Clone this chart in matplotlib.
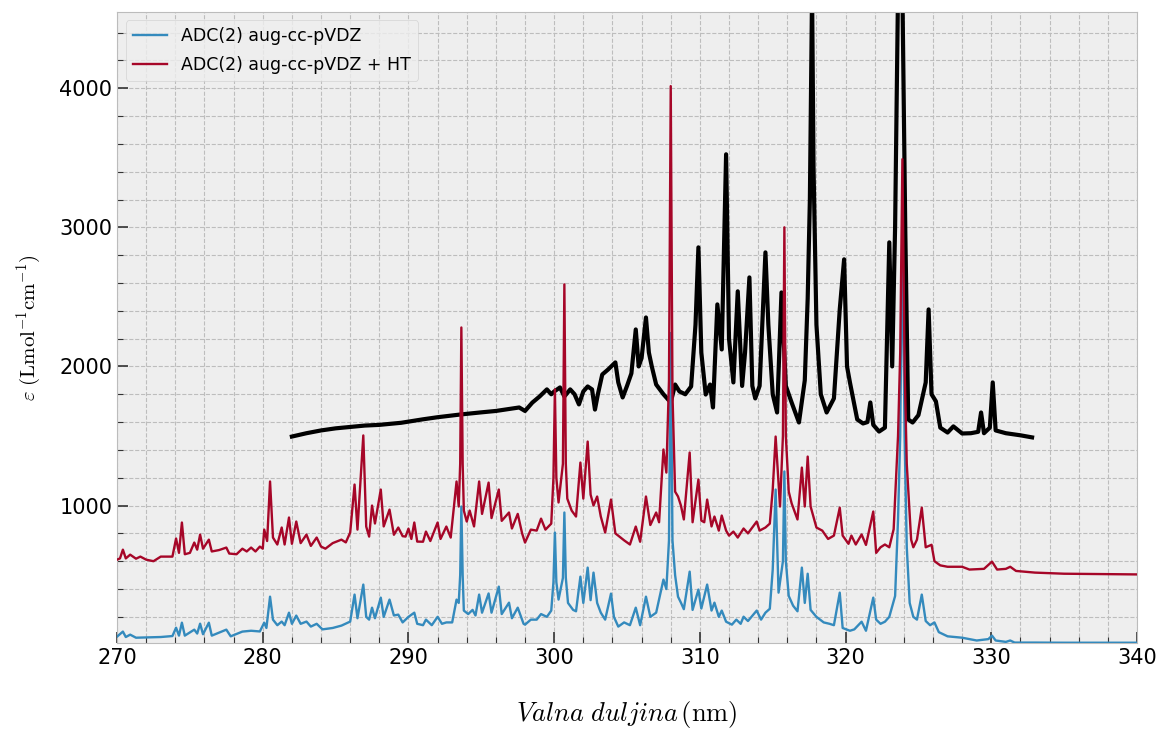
import matplotlib
matplotlib.use("Agg")
import matplotlib.pyplot as plt
from matplotlib.ticker import MultipleLocator

# ADC(2) aug-cc-pVDZ
adc_x = [270.0, 270.4, 270.6, 270.9, 271.3, 272.0, 273.0, 273.8, 274.05, 274.25, 274.45, 274.65,
         275.3, 275.5, 275.7, 275.9, 276.3, 276.5, 277.5, 277.8, 278.6, 279.2, 279.8, 280.1,
         280.25, 280.5, 280.7, 281.0, 281.3, 281.5, 281.8, 282.0, 282.3, 282.6, 283.0, 283.3,
         283.7, 284.1, 284.8, 285.4, 286.0, 286.3, 286.5, 286.9, 287.1, 287.3, 287.5, 287.7,
         288.1, 288.3, 288.7, 289.0, 289.3, 289.6, 290.0, 290.4, 290.6, 291.0, 291.2, 291.6,
         292.0, 292.3, 292.6, 293.0, 293.3, 293.45, 293.55, 293.63, 293.72, 293.8, 294.1, 294.4,
         294.6, 294.85, 295.05, 295.5, 295.7, 296.2, 296.4, 296.9, 297.1, 297.5, 297.9, 298.0,
         298.4, 298.8, 299.1, 299.5, 299.8, 299.95, 300.05, 300.15, 300.3, 300.6, 300.7, 300.8,
         300.95, 301.3, 301.5, 301.8, 302.0, 302.3, 302.5, 302.7, 302.95, 303.2, 303.5, 303.9,
         304.1, 304.4, 304.8, 305.2, 305.6, 305.9, 306.3, 306.6, 307.0, 307.5, 307.7, 307.88,
         308.0, 308.12, 308.3, 308.5, 308.7, 308.9, 309.3, 309.5, 309.9, 310.1, 310.5, 310.8,
         311.0, 311.3, 311.5, 311.8, 312.2, 312.5, 312.8, 313.0, 313.3, 313.9, 314.2, 314.5,
         314.8, 315.0, 315.2, 315.4, 315.7, 315.8, 315.9, 316.1, 316.4, 316.7, 317.0, 317.2,
         317.4, 317.6, 318.0, 318.5, 318.9, 319.2, 319.6, 319.8, 320.3, 320.6, 321.1, 321.4,
         321.9, 322.1, 322.4, 322.7, 323.0, 323.4, 323.6, 323.75, 323.9, 324.05, 324.2, 324.4,
         324.65, 324.9, 325.23, 325.5, 325.8, 326.1, 326.4, 327.0, 328.0, 329.0, 329.8, 330.05,
         330.3, 331.0, 331.3, 331.6, 333.0, 335.0, 340.0]
adc_y = [58, 94, 55, 72, 50, 52, 55, 62, 122, 65, 158, 65,
         108, 80, 151, 75, 158, 65, 108, 60, 94, 100, 95, 158,
         120, 345, 180, 140, 166, 140, 230, 150, 209, 150, 166, 130,
         150, 110, 120, 137, 166, 360, 190, 432, 200, 180, 266, 190,
         338, 200, 324, 210, 216, 160, 200, 230, 150, 140, 180, 140,
         200, 150, 160, 160, 324, 300, 500, 993, 500, 245, 220, 250,
         210, 360, 230, 368, 230, 417, 220, 302, 190, 266, 150, 144,
         180, 180, 220, 200, 245, 450, 806, 450, 324, 480, 950, 480,
         300, 250, 240, 489, 300, 554, 320, 518, 300, 230, 180, 367,
         200, 130, 160, 140, 266, 140, 345, 200, 230, 468, 400, 750,
         2240, 750, 500, 345, 302, 255, 525, 250, 396, 260, 432, 245,
         302, 200, 245, 165, 144, 180, 150, 201, 170, 245, 180, 230,
         258, 540, 1115, 374, 600, 1245, 600, 350, 280, 240, 554, 300,
         510, 250, 200, 160, 150, 140, 374, 120, 100, 110, 165, 100,
         338, 180, 150, 165, 200, 350, 900, 1500, 3040, 1500, 700, 300,
         200, 180, 360, 170, 140, 160, 90, 60, 50, 30, 40, 65,
         30, 20, 30, 15, 15, 14, 14]

# ADC(2) aug-cc-pVDZ + HT
ht_x = [270.0, 270.2, 270.4, 270.6, 270.9, 271.3, 271.6, 272.0, 272.5, 273.0, 273.8, 274.05,
        274.25, 274.45, 274.65, 275.0, 275.3, 275.5, 275.7, 275.9, 276.3, 276.5, 277.0, 277.5,
        277.7, 278.2, 278.6, 278.9, 279.2, 279.5, 279.8, 280.0, 280.1, 280.3, 280.5, 280.7,
        281.0, 281.3, 281.5, 281.8, 282.0, 282.3, 282.6, 283.0, 283.3, 283.7, 284.0, 284.3,
        284.8, 285.4, 285.7, 286.0, 286.3, 286.5, 286.9, 287.1, 287.3, 287.5, 287.7, 288.1,
        288.3, 288.7, 289.0, 289.3, 289.6, 289.8, 290.0, 290.2, 290.4, 290.6, 291.0, 291.2,
        291.5, 292.0, 292.2, 292.6, 292.9, 293.3, 293.45, 293.55, 293.63, 293.72, 293.8, 294.0,
        294.2, 294.5, 294.85, 295.05, 295.5, 295.7, 296.2, 296.4, 296.9, 297.1, 297.5, 297.8,
        298.0, 298.4, 298.8, 299.1, 299.4, 299.6, 299.8, 299.95, 300.05, 300.15, 300.3, 300.6,
        300.7, 300.8, 300.9, 301.2, 301.5, 301.8, 302.0, 302.3, 302.5, 302.7, 302.95, 303.2,
        303.5, 303.9, 304.2, 304.8, 305.2, 305.6, 305.9, 306.3, 306.6, 307.0, 307.2, 307.5,
        307.7, 307.88, 308.0, 308.12, 308.3, 308.5, 308.7, 308.9, 309.3, 309.5, 309.9, 310.1,
        310.3, 310.5, 310.8, 311.0, 311.3, 311.5, 311.8, 312.0, 312.3, 312.6, 313.0, 313.3,
        313.9, 314.1, 314.5, 314.8, 315.0, 315.2, 315.5, 315.7, 315.8, 315.9, 316.1, 316.3,
        316.7, 317.0, 317.2, 317.4, 317.6, 318.0, 318.4, 318.8, 319.2, 319.6, 319.8, 320.2,
        320.4, 320.7, 321.1, 321.4, 321.9, 322.1, 322.4, 322.7, 323.0, 323.3, 323.6, 323.75,
        323.9, 324.05, 324.2, 324.5, 324.65, 324.9, 325.23, 325.5, 325.9, 326.1, 326.5, 327.0,
        328.0, 328.5, 329.5, 330.05, 330.4, 331.0, 331.3, 331.7, 333.0, 335.0, 340.0]
ht_y = [611, 620, 683, 620, 647, 618, 633, 611, 600, 633, 633, 763,
        660, 878, 650, 660, 734, 683, 791, 690, 755, 670, 680, 698,
        655, 650, 690, 670, 698, 670, 705, 690, 827, 745, 1173, 770,
        720, 842, 720, 914, 725, 885, 730, 791, 710, 770, 705, 690,
        730, 755, 735, 806, 1151, 827, 1504, 849, 777, 1000, 871, 1115,
        850, 971, 790, 842, 780, 777, 834, 760, 878, 741, 740, 813,
        745, 878, 760, 849, 770, 1173, 993, 1300, 2280, 1300, 964, 885,
        964, 850, 1173, 940, 1165, 910, 1115, 890, 950, 835, 940, 800,
        734, 827, 820, 906, 827, 849, 870, 1200, 1835, 1200, 1022, 1300,
        2590, 1300, 1050, 964, 921, 1309, 1050, 1460, 1079, 1000, 1065, 921,
        806, 1043, 800, 750, 720, 849, 740, 1065, 860, 950, 880, 1403,
        1237, 1900, 4015, 1800, 1100, 1065, 1000, 900, 1381, 880, 1187, 892,
        880, 1043, 850, 921, 820, 928, 820, 784, 813, 770, 835, 800,
        885, 820, 842, 870, 1115, 1496, 993, 1500, 3000, 1500, 1100, 1015,
        900, 1273, 993, 1352, 993, 842, 820, 760, 784, 985, 784, 725,
        784, 720, 792, 717, 957, 660, 700, 720, 700, 830, 1500, 2100,
        3490, 2000, 1300, 755, 700, 755, 985, 700, 718, 600, 570, 560,
        560, 540, 545, 597, 540, 545, 560, 530, 518, 510, 505]

# experimental spectrum (black trace)
exp_x = [282.0, 283.0, 284.0, 285.0, 286.0, 287.0, 288.0, 289.5, 291.0, 292.0, 293.6, 295.0,
         296.0, 297.6, 298.0, 298.5, 299.0, 299.5, 299.8, 300.0, 300.4, 300.7, 301.1, 301.4,
         301.7, 302.0, 302.3, 302.6, 302.8, 303.0, 303.3, 303.7, 304.2, 304.4, 304.7, 305.0,
         305.3, 305.6, 305.8, 306.0, 306.3, 306.5, 306.7, 307.0, 307.5, 308.0, 308.3, 308.6,
         309.0, 309.4, 309.7, 309.9, 310.1, 310.4, 310.7, 310.9, 311.2, 311.5, 311.8, 312.0,
         312.3, 312.6, 312.9, 313.1, 313.4, 313.6, 313.8, 314.1, 314.5, 314.7, 315.0, 315.3,
         315.6, 315.9, 316.3, 316.8, 317.2, 317.4, 317.55, 317.7, 317.8, 318.0, 318.3, 318.7,
         319.2, 319.6, 319.9, 320.1, 320.3, 320.8, 321.2, 321.5, 321.7, 321.9, 322.3, 322.7,
         323.0, 323.2, 323.4, 323.6, 323.9, 324.1, 324.3, 324.6, 325.0, 325.5, 325.7, 325.9,
         326.2, 326.5, 327.0, 327.4, 328.0, 328.6, 329.1, 329.3, 329.5, 329.9, 330.1, 330.3,
         331.0, 332.0, 332.8]
exp_y = [1496, 1520, 1540, 1555, 1565, 1575, 1580, 1595, 1620, 1635, 1655, 1670,
         1680, 1705, 1680, 1740, 1784, 1835, 1800, 1820, 1849, 1784, 1835, 1800,
         1727, 1820, 1856, 1835, 1690, 1800, 1942, 1978, 2029, 1885, 1777, 1860,
         1950, 2266, 2000, 2060, 2352, 2100, 2000, 1870, 1800, 1741, 1870, 1820,
         1800, 1856, 2300, 2856, 2100, 1798, 1870, 1705, 2446, 2122, 3525, 2200,
         1885, 2540, 1860, 2100, 2640, 1860, 1770, 1860, 2820, 2300, 1800, 1669,
         2532, 1860, 1740, 1597, 1900, 2489, 3201, 4700, 3439, 2300, 1800, 1669,
         1770, 2410, 2770, 2000, 1885, 1619, 1590, 1600, 1741, 1580, 1532, 1560,
         2892, 2000, 3007, 4700, 4700, 2964, 1619, 1597, 1650, 1885, 2410, 1800,
         1749, 1560, 1525, 1569, 1518, 1520, 1530, 1669, 1520, 1560, 1885, 1540,
         1520, 1505, 1490]

plt.style.use('bmh')
plt.rcParams['mathtext.fontset'] = 'cm'

fig = plt.figure(figsize=(11.59, 7.31), dpi=100)
ax = fig.add_axes([0.101, 0.12, 0.88, 0.864])

ax.plot(exp_x, exp_y, color='black', lw=3, zorder=2)
ax.plot(adc_x, adc_y, color='#348ABD', lw=1.7, label='ADC(2) aug-cc-pVDZ', zorder=3)
ax.plot(ht_x, ht_y, color='#A60628', lw=1.7, label='ADC(2) aug-cc-pVDZ + HT', zorder=3)

ax.set_xlim(270, 340)
ax.set_ylim(10, 4550)
ax.xaxis.set_major_locator(MultipleLocator(10))
ax.xaxis.set_minor_locator(MultipleLocator(2))
ax.yaxis.set_major_locator(MultipleLocator(1000))
ax.yaxis.set_minor_locator(MultipleLocator(200))
ax.grid(which='both', color='#bdbdbd', linestyle='--', linewidth=0.8)
ax.tick_params(which='both', direction='in', labelsize=15, color='#333333')
ax.tick_params(which='major', length=8, width=1.2)
ax.tick_params(which='minor', length=4, width=0.8)

ax.set_xlabel(r'$Valna\ duljina\,(\mathrm{nm})$', fontsize=19, labelpad=22)
ax.set_ylabel(r'$\varepsilon\ (\mathrm{Lmol^{-1}cm^{-1}})$', fontsize=15, labelpad=12)
ax.legend(loc='upper left', fontsize=12.5, labelspacing=0.6)

fig.savefig('out.png')
